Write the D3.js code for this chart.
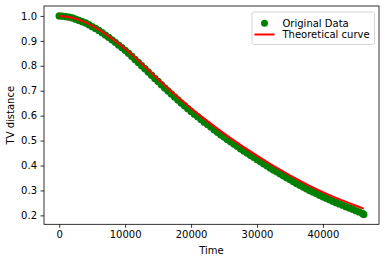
<!DOCTYPE html>
<html>
<head>
<meta charset="utf-8">
<script src="https://cdn.jsdelivr.net/npm/d3@7"></script>
<style>
  html, body { margin: 0; padding: 0; background: #fff; }
  svg { display: block; }
  text { font-family: "DejaVu Sans", sans-serif; }
</style>
</head>
<body>
<svg id="chart" width="386" height="262"></svg>
<script>
// ---- data ----
const dataTime = [
  0, 500, 1000, 1500, 2000, 2500, 3000, 3500, 4000, 4500, 5000, 5500,
  6000, 6500, 7000, 7500, 8000, 8500, 9000, 9500, 10000, 10500, 11000, 11500,
  12000, 12500, 13000, 13500, 14000, 14500, 15000, 15500, 16000, 16500, 17000, 17500,
  18000, 18500, 19000, 19500, 20000, 20500, 21000, 21500, 22000, 22500, 23000, 23500,
  24000, 24500, 25000, 25500, 26000, 26500, 27000, 27500, 28000, 28500, 29000, 29500,
  30000, 30500, 31000, 31500, 32000, 32500, 33000, 33500, 34000, 34500, 35000, 35500,
  36000, 36500, 37000, 37500, 38000, 38500, 39000, 39500, 40000, 40500, 41000, 41500,
  42000, 42500, 43000, 43500, 44000, 44500, 45000, 45500, 46000, 46200
];
const dataTV = [
  1.000, 0.999, 0.997, 0.995, 0.992, 0.987, 0.982, 0.977, 0.972, 0.965, 0.957, 0.950,
  0.942, 0.933, 0.923, 0.914, 0.904, 0.894, 0.883, 0.873, 0.862, 0.850, 0.838, 0.825,
  0.813, 0.800, 0.788, 0.775, 0.762, 0.749, 0.737, 0.724, 0.711, 0.699, 0.687, 0.675,
  0.663, 0.651, 0.640, 0.628, 0.617, 0.606, 0.596, 0.585, 0.574, 0.564, 0.554, 0.543,
  0.533, 0.523, 0.514, 0.504, 0.495, 0.486, 0.477, 0.467, 0.458, 0.450, 0.441, 0.433,
  0.424, 0.416, 0.407, 0.399, 0.390, 0.382, 0.375, 0.367, 0.359, 0.351, 0.344, 0.336,
  0.328, 0.321, 0.314, 0.307, 0.300, 0.294, 0.288, 0.281, 0.275, 0.269, 0.263, 0.257,
  0.251, 0.246, 0.241, 0.235, 0.230, 0.225, 0.219, 0.214, 0.208, 0.204
];
const theoryTime = [
  0, 2000, 4000, 6000, 8000, 10000, 12000, 14000, 16000, 18000, 20000, 22000,
  24000, 26000, 28000, 30000, 32000, 34000, 36000, 38000, 40000, 42000, 44000, 46000, 46200
];
const theoryTV = [
  1.000, 0.993, 0.974, 0.945, 0.909, 0.868, 0.821, 0.771, 0.722, 0.675, 0.630, 0.588,
  0.548, 0.510, 0.474, 0.440, 0.407, 0.376, 0.346, 0.318, 0.293, 0.270, 0.249, 0.229, 0.227
];
const xTicks = [0, 10000, 20000, 30000, 40000];
const yTicks = [0.2, 0.3, 0.4, 0.5, 0.6, 0.7, 0.8, 0.9, 1.0];
const legendLabels = ["Original Data", "Theoretical curve"];

// ---- layout ----
const svg = d3.select("#chart");
const L = 44, R = 379, T = 6, B = 224.3;

const x = d3.scaleLinear().domain([-2310, 48510]).range([L, R]);
const y = d3.scaleLinear().domain([0.1642, 1.0398]).range([B, T]);

// data markers
const pts = dataTime.map((t, i) => [t, dataTV[i]]);
svg.append("g")
  .selectAll("circle")
  .data(pts)
  .join("circle")
  .attr("cx", d => x(d[0]))
  .attr("cy", d => y(d[1]))
  .attr("r", 3.7)
  .attr("fill", "#008000");

// theoretical curve
const tpts = theoryTime.map((t, i) => [t, theoryTV[i]]);
svg.append("path")
  .datum(tpts)
  .attr("fill", "none")
  .attr("stroke", "#ff0000")
  .attr("stroke-width", 2)
  .attr("d", d3.line().x(d => x(d[0])).y(d => y(d[1])).curve(d3.curveMonotoneX));

// axes
const xAxis = d3.axisBottom(x).tickValues(xTicks).tickFormat(d3.format("d"))
  .tickSize(3.5).tickPadding(3.5);
const yAxis = d3.axisLeft(y).tickValues(yTicks).tickFormat(d3.format(".1f"))
  .tickSize(3.5).tickPadding(3.5);

const gx = svg.append("g").attr("transform", `translate(0,${B})`).call(xAxis);
const gy = svg.append("g").attr("transform", `translate(${L},0)`).call(yAxis);
[gx, gy].forEach(g => {
  g.select(".domain").remove();
  g.selectAll("line").attr("stroke", "#000").attr("stroke-width", 0.8);
  g.selectAll("text").attr("fill", "#000").style("font-size", "10px")
    .style("font-family", "'DejaVu Sans', sans-serif");
});

// frame
svg.append("rect")
  .attr("x", L).attr("y", T).attr("width", R - L).attr("height", B - T)
  .attr("fill", "none").attr("stroke", "#000").attr("stroke-width", 0.8);

// axis labels
svg.append("text")
  .attr("x", (L + R) / 2).attr("y", 254)
  .attr("text-anchor", "middle").style("font-size", "10px").text("Time");
svg.append("text")
  .attr("transform", `translate(13.5,${(T + B) / 2}) rotate(-90)`)
  .attr("text-anchor", "middle").style("font-size", "10px").text("TV distance");

// legend
const lg = svg.append("g");
lg.append("rect")
  .attr("x", 252).attr("y", 12).attr("width", 122.5).attr("height", 32.5)
  .attr("rx", 2).attr("fill", "#fff").attr("fill-opacity", 0.8)
  .attr("stroke", "#cccccc").attr("stroke-width", 0.8);
lg.append("circle").attr("cx", 264.5).attr("cy", 23.3).attr("r", 3.5).attr("fill", "#008000");
lg.append("line").attr("x1", 254.5).attr("x2", 274.5).attr("y1", 34.5).attr("y2", 34.5)
  .attr("stroke", "#ff0000").attr("stroke-width", 2);
legendLabels.forEach((s, i) => {
  lg.append("text").attr("x", 282.5).attr("y", 23.3 + i * 11.2)
    .attr("dy", "0.35em").style("font-size", "10px").attr("fill", "#000").text(s);
});
</script>
</body>
</html>
